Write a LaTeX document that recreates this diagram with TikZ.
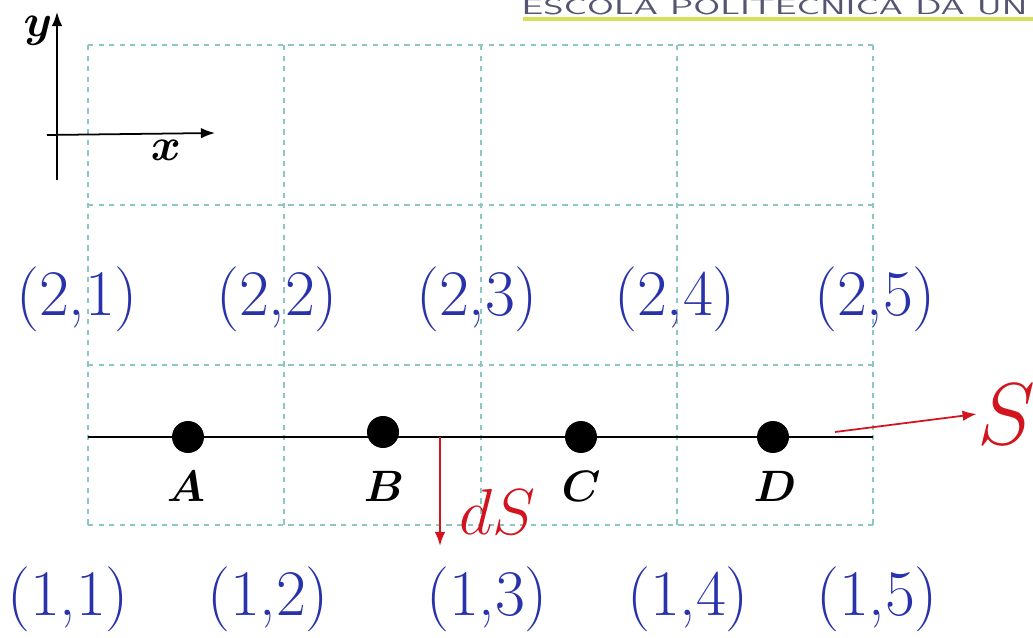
\documentclass[tikz,border=0pt]{standalone}
\usepackage{fix-cm}
\usepackage{amsmath,bm}
\usetikzlibrary{arrows.meta}
\definecolor{gridcol}{RGB}{140,200,195}
\definecolor{idxblue}{RGB}{40,50,170}
\definecolor{arrred}{RGB}{210,20,30}
\definecolor{headcol}{RGB}{85,85,115}
\definecolor{headline}{RGB}{215,225,90}
\tikzset{
  cellgrid/.style={draw=gridcol, dashed, line width=0.8pt},
  idx/.style={text=idxblue, inner sep=0pt, font=\fontsize{37}{42}\selectfont},
  pt/.style={circle, fill=black, minimum size=0.64cm, inner sep=0pt},
  ptlabel/.style={inner sep=0pt, font=\fontsize{25}{30}\selectfont},
  redlbl/.style={text=arrred, inner sep=0pt},
}
\begin{document}
\begin{tikzpicture}[x=0.02cm, y=-0.02cm, >={Latex[length=8pt,width=6pt]}]
\useasboundingbox (0,0) rectangle (1033,638);
\clip (0,0) rectangle (1033,638);

% header of the slide
\node[anchor=base west, inner sep=0pt, text=headcol, xscale=1.7, transform shape,
  font=\sffamily\fontsize{12.5}{14}\selectfont] (head) at (521,15) {ESCOLA POLITECNICA DA UN};
\draw[headline, line width=2.5pt] (523,19) -- (1040,19);

% dashed cells
\foreach \x in {88,284,481,677,873}
  \draw[cellgrid] (\x,45) -- (\x,525);
\foreach \y in {45,205,365,525}
  \draw[cellgrid] (88,\y) -- (873,\y);

% axes
\coordinate (ybot) at (57,180);
\coordinate (ytop) at (57,12);
\coordinate (xleft) at (47,135);
\coordinate (xright) at (215,133);
\draw[->, line width=1pt] (ybot) -- (ytop);
\draw[->, line width=1pt] (xleft) -- (xright);
\node[inner sep=0pt, font=\fontsize{26}{30}\selectfont] (ylab) at (38,31) {$\bm{y}$};
\node[inner sep=0pt, font=\fontsize{26}{30}\selectfont] (xlab) at (166,150) {$\bm{x}$};

% the line S and its points
\coordinate (sl) at (88,437);
\coordinate (sr) at (873,437);
\draw[line width=0.9pt] (sl) -- (sr);
\node[pt] (A) at (188,437) {};
\node[pt] (B) at (383,432) {};
\node[pt] (C) at (581,437) {};
\node[pt] (D) at (773,437) {};
\node[ptlabel] (la) at (186,486) {$\bm{A}$};
\node[ptlabel] (lb) at (384,486) {$\bm{B}$};
\node[ptlabel] (lc) at (581,486) {$\bm{C}$};
\node[ptlabel] (ld) at (775,486) {$\bm{D}$};

% cell indices
\node[idx] (i21) at (77,299) {(2,1)};
\node[idx] (i22) at (277,299) {(2,2)};
\node[idx] (i23) at (477,299) {(2,3)};
\node[idx] (i24) at (675,299) {(2,4)};
\node[idx] (i25) at (875,299) {(2,5)};
\node[idx] (i11) at (68,599) {(1,1)};
\node[idx] (i12) at (268,599) {(1,2)};
\node[idx] (i13) at (487,599) {(1,3)};
\node[idx] (i14) at (688,599) {(1,4)};
\node[idx] (i15) at (877,599) {(1,5)};

% normal dS and curve S
\coordinate (dstop) at (440,437);
\coordinate (dsbot) at (440,546);
\draw[->, arrred, line width=1.2pt] (dstop) -- (dsbot);
\node[redlbl, font=\fontsize{37}{40}\selectfont] (ds) at (497,512) {$dS$};
\node[redlbl, font=\fontsize{50}{56}\selectfont] (S) at (1006,414) {$S$};
\coordinate (sfrom) at (835,432);
\draw[->, arrred, line width=1pt] (sfrom) -- (S.west);
\end{tikzpicture}
\end{document}
